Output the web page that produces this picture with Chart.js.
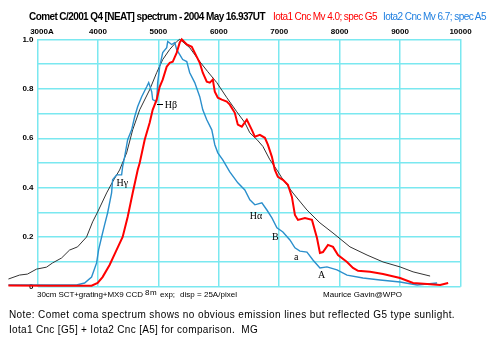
<!DOCTYPE html>
<html><head><meta charset="utf-8">
<script src="https://cdn.jsdelivr.net/npm/chart.js@4"></script>
<style>
html,body{margin:0;padding:0;background:#fff;width:500px;height:350px;overflow:hidden}
#wrap{position:relative;width:500px;height:350px}
canvas{position:absolute;left:0;top:0}
.t{position:absolute;white-space:pre;font-family:Arial,"Liberation Sans",sans-serif;line-height:1;color:#000}
.ann{position:absolute;white-space:pre;font-family:"Liberation Serif","Times New Roman",serif;font-size:10px;line-height:1;color:#000}
#lead{position:absolute;height:1px;background:#000}
</style></head><body>
<div id="wrap">
<canvas id="c" width="500" height="350"></canvas>
<span class="t fit" data-w="236" data-x="29" data-y="17" style="font-size:10px;font-weight:bold">Comet C/2001 Q4 [NEAT] spectrum - 2004 May 16.937UT</span>
<span class="t fit" data-w="104" data-x="273" data-y="17" style="font-size:10px;color:#ff0000">Iota1 Cnc Mv 4.0; spec G5</span>
<span class="t fit" data-w="103" data-x="383" data-y="17" style="font-size:10px;color:#1f7fe0">Iota2 Cnc Mv 6.7; spec A5</span>
<span class="t fit" data-w="106" data-x="37" data-y="295" style="font-size:8px">30cm SCT+grating+MX9 CCD</span>
<span class="t fit" data-w="12" data-x="145" data-y="293" style="font-size:8px">8m</span>
<span class="t fit" data-w="15" data-x="160" data-y="295" style="font-size:8px">exp;</span>
<span class="t fit" data-w="57" data-x="180" data-y="295" style="font-size:8px">disp = 25A/pixel</span>
<span class="t fit" data-w="79" data-x="323" data-y="295" style="font-size:8px">Maurice Gavin@WPO</span>
<span class="t fit" data-w="446" data-x="9" data-y="315" style="font-size:10px">Note: Comet coma spectrum shows no obvious emission lines but reflected G5 type sunlight.</span>
<span class="t fit" data-w="249" data-x="9" data-y="330" style="font-size:10px">Iota1 Cnc [G5] + Iota2 Cnc [A5] for comparison.  MG</span>
<div id="lead"></div>
</div>
<script>
// Comet C/2001 Q4 (NEAT) coma spectrum (dark grey)
const cometWavelength = [2519,2702,2834,2983,3149,3249,3398,3530,3663,3812,3912,3995,4144,4243,4359,4475,4575,4691,4856,4972,5072,5188,5304,5354,5519,5685,5818,5967,6133,6298,6431,6514,6630,6730,6846,6962,7044,7227,7459,7674,7890,8171,8453,8718,9000,9215,9497];
const cometFlux = [0.031,0.047,0.051,0.071,0.079,0.096,0.116,0.148,0.161,0.201,0.262,0.302,0.379,0.424,0.472,0.541,0.634,0.715,0.796,0.865,0.918,0.959,0.991,1.0,0.966,0.91,0.869,0.825,0.764,0.707,0.663,0.622,0.595,0.567,0.513,0.472,0.44,0.379,0.31,0.258,0.217,0.161,0.128,0.1,0.08,0.06,0.043];
// Iota1 Cnc, G5 (red)
const iota1Wavelength = [2519,3199,3895,3995,4077,4193,4309,4409,4492,4575,4658,4691,4774,4856,4906,4972,5022,5072,5138,5188,5238,5304,5354,5387,5470,5553,5636,5685,5735,5801,5851,5901,5934,5984,6050,6133,6182,6265,6315,6381,6464,6547,6597,6680,6763,6812,6879,6928,6978,7061,7144,7210,7260,7310,7426,7542,7625,7674,7724,7807,7890,7973,8122,8221,8304,8503,8718,9000,9215,9448,9663,9796];
const iota1Flux = [0.005,0.004,0.004,0.015,0.039,0.088,0.149,0.201,0.282,0.379,0.472,0.5,0.594,0.663,0.715,0.756,0.808,0.837,0.889,0.905,0.909,0.946,0.987,1.0,0.979,0.97,0.929,0.905,0.865,0.829,0.825,0.837,0.788,0.764,0.756,0.748,0.736,0.703,0.655,0.647,0.675,0.634,0.606,0.614,0.602,0.574,0.525,0.472,0.444,0.432,0.412,0.363,0.29,0.27,0.278,0.27,0.197,0.136,0.14,0.169,0.161,0.128,0.1,0.076,0.064,0.06,0.051,0.035,0.015,0.011,0.007,0.015];
// Iota2 Cnc, A5 (blue)
const iota2Wavelength = [2519,3033,3646,3779,3895,3978,4011,4061,4110,4160,4226,4243,4309,4392,4409,4442,4492,4558,4608,4658,4724,4807,4840,4890,4906,4972,4989,5022,5072,5138,5155,5221,5271,5304,5354,5403,5470,5519,5602,5685,5735,5801,5884,5934,5984,6066,6182,6315,6431,6514,6597,6713,6796,6879,6962,7061,7177,7260,7343,7459,7558,7674,7790,7956,8122,8387,8669,9000,9282,9613];
const iota2Flux = [0.007,0.007,0.007,0.015,0.039,0.096,0.149,0.201,0.25,0.298,0.379,0.432,0.452,0.452,0.485,0.525,0.594,0.634,0.687,0.728,0.768,0.808,0.825,0.788,0.756,0.748,0.825,0.889,0.946,0.966,0.991,0.979,0.987,0.958,0.938,0.918,0.91,0.865,0.825,0.768,0.715,0.675,0.634,0.574,0.541,0.513,0.464,0.42,0.391,0.351,0.331,0.339,0.31,0.278,0.238,0.221,0.189,0.157,0.144,0.14,0.108,0.076,0.08,0.068,0.047,0.035,0.027,0.019,0.007,0.015];
// axis ticks
const xTicks = [3000,4000,5000,6000,7000,8000,9000,10000];
const yTickLabels = {0:'0',2:'0.2',4:'0.4',6:'0.6',8:'0.8',10:'1.0'};
// line annotations: [label, wavelength, flux at label centre]
const lineLabels = [['H\u03B2',5105,0.735],['H\u03B3',4309,0.42],['H\u03B1',6514,0.286],['B',6879,0.2],['a',7243,0.12],['A',7641,0.047]];
const hbLeader = [4972,5072,0.74];

function pts(xs, ys){ return xs.map((x,i)=>({x:x, y:ys[i]})); }

const gridColor = '#7ae8f0';
const chart = new Chart(document.getElementById('c'), {
  type: 'line',
  data: { datasets: [
    {label:'Iota1 Cnc', data: pts(iota1Wavelength, iota1Flux), borderColor:'#ff0000', borderWidth:2, pointRadius:0, tension:0, clip:false, fill:false},
    {label:'Iota2 Cnc', data: pts(iota2Wavelength, iota2Flux), borderColor:'#2b8fcc', borderWidth:1.4, pointRadius:0, tension:0, clip:false, fill:false},
    {label:'Comet', data: pts(cometWavelength, cometFlux), borderColor:'#333333', borderWidth:1, pointRadius:0, tension:0, clip:false, fill:false}
  ]},
  options: {
    responsive:false, animation:false, devicePixelRatio:1,
    layout:{padding:{left:0, top:0, right:39.5, bottom:63.3}},
    plugins:{legend:{display:false}, tooltip:{enabled:false}},
    scales:{
      x:{type:'linear', position:'top',
        afterDataLimits:(s)=>{ s.min = 3000; s.max = 10000; },
        afterBuildTicks:(s)=>{ s.ticks = xTicks.map(v=>({value:v})); },
        afterFit:(s)=>{ s.height = 39.3; },
        grid:{color:gridColor, lineWidth:1.5, drawTicks:false},
        border:{display:false},
        ticks:{padding:3, color:'#000', maxRotation:0, autoSkip:false, font:{family:'Arial', size:8, weight:'bold'},
          callback:(v)=> v===3000 ? '    3000A' : String(v)}
      },
      y:{type:'linear', min:0, max:1,
        afterFit:(s)=>{ s.width = 37.5; },
        grid:{color:gridColor, lineWidth:1.5, drawTicks:false},
        border:{display:false},
        ticks:{stepSize:0.1, padding:4, color:'#000', autoSkip:false, font:{family:'Arial', size:8, weight:'bold'},
          callback:(v)=>{ const k=Math.round(v*10); return yTickLabels[k] !== undefined ? yTickLabels[k] : ''; }}
      }
    }
  }
});

// fit text widths
document.querySelectorAll('.fit').forEach(el=>{
  const fs = parseFloat(el.style.fontSize);
  el.style.left = el.dataset.x + 'px';
  el.style.top = (parseFloat(el.dataset.y) - fs/2) + 'px';
  const w = el.getBoundingClientRect().width;
  const n = el.textContent.length;
  el.style.letterSpacing = ((parseFloat(el.dataset.w) - w) / n) + 'px';
});

// place annotations via the chart's scales
const xs = chart.scales.x, ys = chart.scales.y, wrap = document.getElementById('wrap');
lineLabels.forEach(([txt, wl, f])=>{
  const s = document.createElement('span');
  s.className = 'ann'; s.textContent = txt;
  wrap.appendChild(s);
  s.style.left = xs.getPixelForValue(wl) + 'px';
  s.style.top = (ys.getPixelForValue(f) - 5) + 'px';
});
const lead = document.getElementById('lead');
const lx1 = xs.getPixelForValue(hbLeader[0]), lx2 = xs.getPixelForValue(hbLeader[1]);
lead.style.left = lx1 + 'px'; lead.style.width = (lx2 - lx1) + 'px';
lead.style.top = ys.getPixelForValue(hbLeader[2]) + 'px';
</script>
</body></html>
